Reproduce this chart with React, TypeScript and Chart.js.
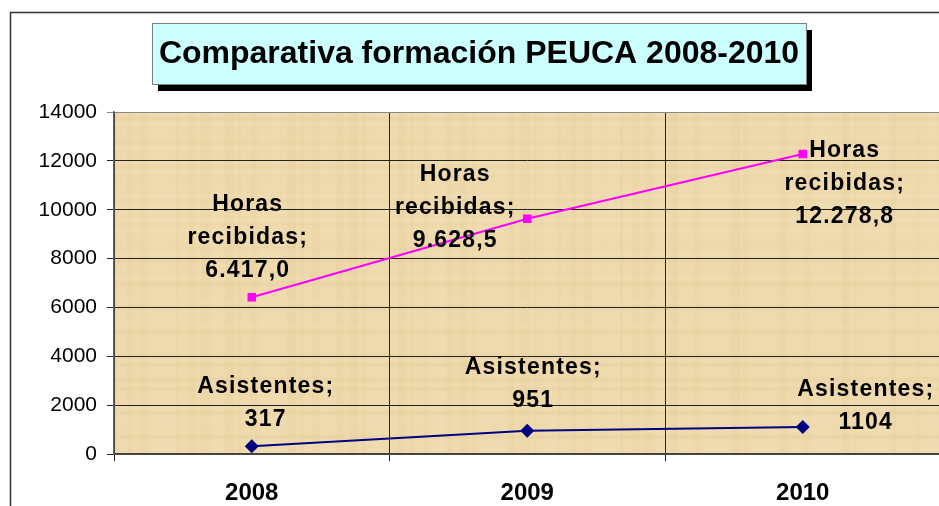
import React, { useEffect, useRef } from "react";
import { Chart, registerables } from "chart.js";

Chart.register(...registerables);

const categories = ["2008", "2009", "2010"];
const horasValues = [6417.0, 9628.5, 12278.8];
const asistentesValues = [317, 951, 1104];
const seriesNames = ["Asistentes", "Horas recibidas"];
const titleText = "Comparativa formación PEUCA 2008-2010";
const yMin = 0;
const yMax = 14000;
const yStep = 2000;

// label placement (offset of label block relative to point, in px) — styling only
const horasLabelPlacement = [
  { dx: -4, firstLineDy: -93 },
  { dx: -72, firstLineDy: -44 },
  { dx: 42, firstLineDy: -3 },
];
const asisLabelPlacement = [
  { dx: 14, firstLineDy: -60 },
  { dx: 6, firstLineDy: -63 },
  { dx: 63, firstLineDy: -37 },
];

const CW = 1000;
const CH = 540;
const AREA_LEFT = 114;
const AREA_TOP = 112;
const AREA_RIGHT = 940.5;
const AREA_BOTTOM = 454;

function fmtHoras(v: number) {
  const fixed = v.toFixed(1);
  const [intPart, dec] = fixed.split(".");
  const withDots = intPart.replace(/\B(?=(\d{3})+(?!\d))/g, ".");
  return withDots + "," + dec;
}

const paperPlugin = {
  id: "paper",
  beforeDraw(chart: any) {
    const ctx = chart.ctx;
    const a = chart.chartArea;
    ctx.save();
    ctx.strokeStyle = "#333";
    ctx.lineWidth = 1.5;
    ctx.strokeRect(10.5, 12.5, CW, CH);
    ctx.fillStyle = "#efdaad";
    ctx.fillRect(a.left, a.top, a.right - a.left, a.bottom - a.top);
    ctx.globalAlpha = 0.1;
    const w = a.right - a.left;
    const h = a.bottom - a.top;
    for (let i = 0; i < 60; i++) {
      const x = a.left + ((i * 37) % Math.floor(w));
      ctx.fillStyle = i % 3 === 0 ? "#d9b878" : i % 3 === 1 ? "#f7ead0" : "#e2c48c";
      ctx.fillRect(x, a.top, 3 + (i % 4) * 2, h);
    }
    for (let j = 0; j < 40; j++) {
      const y = a.top + ((j * 53) % Math.floor(h));
      ctx.fillStyle = j % 2 === 0 ? "#f8ecd2" : "#dcbd84";
      ctx.fillRect(a.left, y, w, 2 + (j % 3) * 2);
    }
    ctx.restore();
  },
};

const titlePlugin = {
  id: "titleBox",
  afterDraw(chart: any) {
    const ctx = chart.ctx;
    ctx.save();
    const x = 152, y = 23, w = 654, h = 61;
    ctx.fillStyle = "#000";
    ctx.fillRect(x + 6, y + 7, w, h);
    ctx.fillStyle = "#ccffff";
    ctx.fillRect(x, y, w, h);
    ctx.strokeStyle = "#808080";
    ctx.lineWidth = 1;
    ctx.strokeRect(x + 0.5, y + 0.5, w, h);
    ctx.fillStyle = "#000";
    ctx.font = "bold 32px 'Liberation Sans', Arial, sans-serif";
    ctx.textAlign = "center";
    ctx.textBaseline = "middle";
    ctx.fillText(titleText, x + w / 2, y + h / 2 + 1);
    ctx.restore();
  },
};

const labelsPlugin = {
  id: "pointLabels",
  afterDatasetsDraw(chart: any) {
    const ctx = chart.ctx;
    ctx.save();
    ctx.fillStyle = "#000";
    ctx.font = "bold 23px 'Liberation Sans', Arial, sans-serif";
    (ctx as any).letterSpacing = "1.2px";
    ctx.textAlign = "center";
    ctx.textBaseline = "middle";
    const lineH = 33;
    chart.data.datasets.forEach((ds: any, di: number) => {
      const meta = chart.getDatasetMeta(di);
      meta.data.forEach((pt: any, i: number) => {
        const v = ds.data[i];
        let lines: string[];
        let pl;
        if (ds.label === "Horas recibidas") {
          lines = ["Horas", "recibidas;", fmtHoras(v)];
          pl = horasLabelPlacement[i];
        } else {
          lines = ["Asistentes;", String(v)];
          pl = asisLabelPlacement[i];
        }
        lines.forEach((t, k) => {
          ctx.fillText(t, pt.x + pl.dx, pt.y + pl.firstLineDy + k * lineH);
        });
      });
    });
    ctx.restore();
  },
};

export default function App() {
  const ref = useRef<HTMLCanvasElement | null>(null);
  useEffect(() => {
    if (!ref.current) return;
    const chart = new Chart(ref.current, {
      type: "line",
      data: {
        labels: categories,
        datasets: [
          {
            label: seriesNames[0],
            data: asistentesValues,
            borderColor: "#000080",
            backgroundColor: "#000080",
            borderWidth: 2,
            pointStyle: "rectRot",
            pointRadius: 7,
            pointBorderWidth: 0,
          },
          {
            label: seriesNames[1],
            data: horasValues,
            borderColor: "#ff00ff",
            backgroundColor: "#ff00ff",
            borderWidth: 2,
            pointStyle: "rect",
            pointRadius: 6,
            pointBorderWidth: 0,
          },
        ],
      },
      options: {
        responsive: false,
        animation: false,
        devicePixelRatio: 1,
        layout: {
          padding: { left: 0, top: AREA_TOP, right: CW - AREA_RIGHT, bottom: 0 },
        },
        plugins: {
          legend: { display: false },
          title: { display: false },
          tooltip: { enabled: false },
        },
        scales: {
          x: {
            offset: true,
            afterFit: (s: any) => {
              s.height = CH - AREA_BOTTOM;
            },
            grid: {
              offset: true,
              color: "#222",
              lineWidth: 1,
              tickLength: 7,
              drawTicks: true,
            },
            border: { color: "#444", width: 2 },
            ticks: {
              color: "#000",
              padding: 18,
              font: { family: "'Liberation Sans', Arial, sans-serif", size: 24, weight: "bold" },
            },
          },
          y: {
            min: yMin,
            max: yMax,
            afterFit: (s: any) => {
              s.width = AREA_LEFT;
            },
            ticks: {
              stepSize: yStep,
              color: "#000",
              padding: 10,
              callback: (v: any) => String(v),
              font: { family: "'Liberation Sans', Arial, sans-serif", size: 21 },
            },
            grid: {
              color: (c: any) => (c.tick && c.tick.value === yMax ? "#888" : "#222"),
              lineWidth: 1,
              tickLength: 7,
            },
            border: { color: "#666", width: 1.5 },
          },
        },
      },
      plugins: [paperPlugin, labelsPlugin, titlePlugin],
    } as any);
    return () => chart.destroy();
  }, []);
  return (
    <div style={{ position: "fixed", left: 0, top: 0, width: 939, height: 506, overflow: "hidden", background: "#fff" }}>
      <canvas ref={ref} width={CW} height={CH} style={{ display: "block", width: CW, height: CH }} />
    </div>
  );
}
